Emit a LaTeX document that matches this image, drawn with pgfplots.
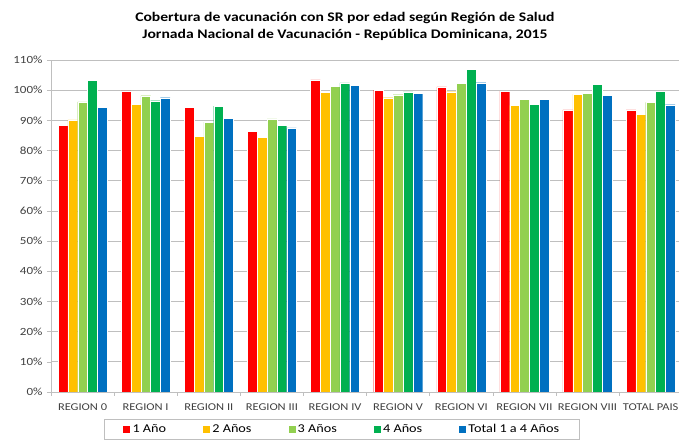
\documentclass[border=0pt]{standalone}
\usepackage{pgfplots}
\pgfplotsset{compat=1.18}
\usepackage{fontspec}
\setmainfont{Carlito}[FakeStretch=1.19]
\definecolor{cRed}{HTML}{FF0000}
\definecolor{cYel}{HTML}{FFC000}
\definecolor{cLgr}{HTML}{92D050}
\definecolor{cGrn}{HTML}{00B050}
\definecolor{cBlu}{HTML}{0070C0}
\definecolor{gridc}{HTML}{BFBFBF}
\definecolor{txt}{HTML}{404040}
\begin{document}
\begin{tikzpicture}
\begin{axis}[
  scale only axis,
  width=628bp, height=332bp,
  xmin=-0.5, xmax=9.45,
  ymin=0, ymax=110,
  ytick={0,10,...,110},
  yticklabel={\pgfmathprintnumber{\tick}\%},
  /pgf/number format/assume math mode=true,
  xtick={0,...,9},
  xticklabels={REGION 0,REGION I,REGION II,REGION III,REGION IV,REGION V,REGION VI,REGION VII,REGION VIII,TOTAL PAIS},
  minor xtick={-0.5,0.5,...,9.5},
  major x tick style={draw=none},
  minor tick length=4bp,
  major tick length=4bp,
  tick align=outside,
  tick style={color=gridc, line width=0.6pt},
  axis x line*=bottom, axis y line*=left,
  axis line style={color=gridc, line width=0.8pt, -},
  ymajorgrids, grid style={color=gridc, line width=0.8pt},
  ticklabel style={font=\fontsize{11}{13}\selectfont, text=txt},
  yticklabel style={xshift=-1bp},
  xticklabel style={yshift=-4bp, font=\fontsize{10.5}{13}\selectfont},
  ybar=0pt, bar width=9.8bp,
  every axis plot/.append style={draw=white, line width=0.2pt},
  title={Cobertura de vacunación con SR por edad según Región de Salud\\Jornada Nacional de Vacunación - República Dominicana, 2015},
  title style={align=center, font=\bfseries\fontsize{13.2}{16.5}\selectfont, at={(rel axis cs:0.468,1)}, anchor=south, yshift=10bp},
  legend columns=5,
  legend style={at={(rel axis cs:0.463,-0.113)}, anchor=center, draw=gridc, font=\fontsize{12}{14}\selectfont, /tikz/every even column/.append style={column sep=34bp}, inner xsep=18bp, inner ysep=3bp},
  legend image code/.code={\fill[#1] (0bp,-4bp) rectangle (8bp,4bp);},
]
\addplot[fill=cRed] coordinates {(0,88.4) (1,99.8) (2,94.4) (3,86.3) (4,103.4) (5,100.0) (6,101.1) (7,99.7) (8,93.5) (9,93.5)};
\addplot[fill=cYel] coordinates {(0,90.2) (1,95.4) (2,84.8) (3,84.4) (4,99.2) (5,97.5) (6,99.5) (7,95.0) (8,98.7) (9,92.0)};
\addplot[fill=cLgr] coordinates {(0,96.1) (1,98.2) (2,89.4) (3,90.5) (4,101.3) (5,98.5) (6,102.3) (7,96.9) (8,99.0) (9,96.0)};
\addplot[fill=cGrn] coordinates {(0,103.2) (1,96.5) (2,94.7) (3,88.4) (4,102.4) (5,99.4) (6,106.9) (7,95.4) (8,102.0) (9,99.6)};
\addplot[fill=cBlu] coordinates {(0,94.4) (1,97.5) (2,90.7) (3,87.5) (4,101.6) (5,99.0) (6,102.5) (7,96.9) (8,98.3) (9,95.2)};
\legend{1 Año,2 Años,3 Años,4 Años,Total 1 a 4 Años}
\coordinate (bl) at (rel axis cs:0,0);
\coordinate (tr) at (rel axis cs:1,1);
\end{axis}
\pgfresetboundingbox
\path (bl) ++(-51bp,-52bp) coordinate (a) (tr) ++(0bp,60bp) coordinate (b);
\path[use as bounding box] (a) rectangle (b);
\end{tikzpicture}
\end{document}
